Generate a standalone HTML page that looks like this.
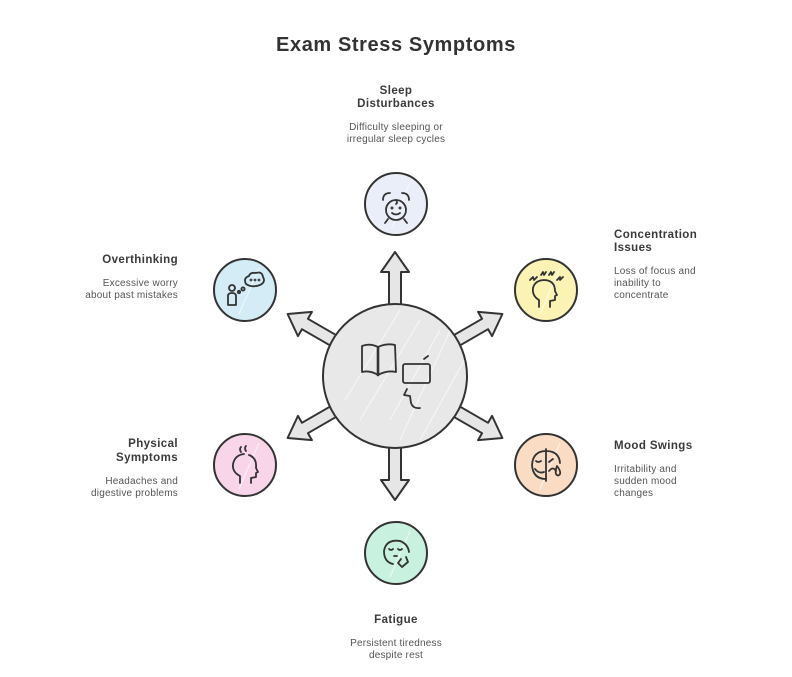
<!DOCTYPE html>
<html>
<head>
<meta charset="utf-8">
<style>
  html,body{margin:0;padding:0;background:#fff;}
  body{width:792px;height:677px;overflow:hidden;}
  svg{display:block;}
  .t{font-family:"Liberation Sans",sans-serif;fill:#333;}
  .h{font-family:"Liberation Sans",sans-serif;font-weight:bold;font-size:11.5px;fill:#3a3a3a;letter-spacing:0.4px;}
  .d{font-family:"Liberation Sans",sans-serif;font-size:10px;fill:#555;letter-spacing:0.2px;}
  .ic{fill:none;stroke:#333;stroke-width:1.8;stroke-linecap:round;stroke-linejoin:round;}
</style>
</head>
<body>
<svg width="792" height="677" viewBox="0 0 792 677" xmlns="http://www.w3.org/2000/svg">
  <defs>
    <clipPath id="cc"><circle cx="395" cy="376" r="71"/></clipPath>
  </defs>

  <!-- Title -->
  <text class="t" x="396" y="51" text-anchor="middle" font-size="20" font-weight="bold" letter-spacing="0.6">Exam Stress Symptoms</text>

  <!-- Arrows -->
  <g fill="#e6e6e6" stroke="#333" stroke-width="2" stroke-linejoin="round">
    <polygon points="389,330 389,272 381,272 395,252 409,272 401,272 401,330" transform="rotate(0 395 376)"/>
    <polygon points="389,330 389,272 381,272 395,252 409,272 401,272 401,330" transform="rotate(60 395 376)"/>
    <polygon points="389,330 389,272 381,272 395,252 409,272 401,272 401,330" transform="rotate(120 395 376)"/>
    <polygon points="389,330 389,272 381,272 395,252 409,272 401,272 401,330" transform="rotate(180 395 376)"/>
    <polygon points="389,330 389,272 381,272 395,252 409,272 401,272 401,330" transform="rotate(240 395 376)"/>
    <polygon points="389,330 389,272 381,272 395,252 409,272 401,272 401,330" transform="rotate(300 395 376)"/>
  </g>

  <!-- Central circle -->
  <circle cx="395" cy="376" r="72" fill="#e8e8e8" stroke="#333" stroke-width="2"/>
  <g clip-path="url(#cc)" stroke="#f7f7f7" stroke-width="1.2" opacity="0.9">
    <line x1="420" y1="320" x2="360" y2="420"/>
    <line x1="440" y1="330" x2="390" y2="420"/>
    <line x1="455" y1="320" x2="400" y2="440"/>
    <line x1="400" y1="310" x2="345" y2="400"/>
    <line x1="470" y1="350" x2="420" y2="440"/>
  </g>
  <!-- book icon -->
  <g class="ic" stroke-width="2">
    <path d="M362 346 Q370 343 378 347 Q386 343 395 345 L396 372 Q387 370 378 375 Q370 370 362 372 Z"/>
    <line x1="378" y1="347" x2="378" y2="375" stroke-width="2.6"/>
    <rect x="403" y="364" width="27" height="19" rx="2"/>
    <line x1="424" y1="359" x2="428" y2="356"/>
    <path d="M407 389 L404 395 L410 396 L411 403 Q413 409 420 408"/>
  </g>

  <!-- Satellites -->
  <g stroke="#333" stroke-width="2">
    <circle cx="396" cy="204" r="31" fill="#eaeef8"/>
    <circle cx="546" cy="290" r="31" fill="#fbf3b4"/>
    <circle cx="546" cy="465" r="31" fill="#f9dcc3"/>
    <circle cx="396" cy="553" r="31" fill="#c9f1df"/>
    <circle cx="245" cy="465" r="31" fill="#f8d5e8"/>
    <circle cx="245" cy="290" r="31" fill="#d3ecf6"/>
  </g>
  <g stroke="#ffffff" stroke-width="1" opacity="0.7">
    <line x1="410" y1="182" x2="392" y2="228"/>
    <line x1="560" y1="268" x2="540" y2="314"/>
    <line x1="560" y1="443" x2="540" y2="489"/>
    <line x1="410" y1="531" x2="390" y2="577"/>
    <line x1="259" y1="443" x2="239" y2="489"/>
    <line x1="259" y1="268" x2="239" y2="314"/>
  </g>

  <!-- Alarm clock icon -->
  <g class="ic">
    <circle cx="396" cy="210" r="10"/>
    <path d="M383 200 Q383 193 390 193"/>
    <path d="M409 200 Q409 193 402 193"/>
    <path d="M388 219 L385 223"/>
    <path d="M404 219 L407 223"/>
    <path d="M392 213 Q396 216 400 213"/>
    <circle cx="392" cy="208" r="0.6"/>
    <circle cx="400" cy="208" r="0.6"/>
    <path d="M396 200 Q398 203 396 204"/>
  </g>

  <!-- Concentration icon -->
  <g class="ic">
    <path d="M539 307 L539 300 Q532 296 533 288 Q535 280 545 280 Q555 281 555 291 L557 295 L555 296 L555 300 L550 301 L550 307"/>
    <path d="M530 280 L533 277 L534 280 L537 277"/>
    <path d="M541 275 L543 272 L544 275 L546 272"/>
    <path d="M549 275 L551 272 L552 275 L554 272"/>
    <path d="M557 280 L560 277 L560 280 L563 277"/>
  </g>

  <!-- Mood swings icon -->
  <g class="ic">
    <path d="M546 451 Q533 451 532 465 Q533 479 546 479"/>
    <path d="M546 451 Q559 451 560 463"/>
    <line x1="546" y1="449" x2="546" y2="481"/>
    <path d="M536 461 Q538 463 541 461"/>
    <path d="M535 469 Q539 474 544 472"/>
    <path d="M549 462 L553 459"/>
    <path d="M549 471 Q553 466 556 471"/>
    <path d="M557 466 Q561 471 560 474 Q558 477 556 474 Q555 471 557 466 Z"/>
  </g>

  <!-- Fatigue icon -->
  <g class="ic">
    <path d="M400 541 Q386 539 384 551 Q384 562 393 564"/>
    <path d="M400 541 Q408 544 409 552"/>
    <path d="M389 549 Q391 551 393 549"/>
    <path d="M398 549 Q400 551 402 549"/>
    <line x1="394" y1="556" x2="397" y2="556"/>
    <path d="M401 559 L398 563 L402 567 L408 562 L406 557"/>
  </g>

  <!-- Physical icon -->
  <g class="ic">
    <path d="M240 483 L240 476 Q232 472 233 464 Q235 455 244 454"/>
    <path d="M249 455 Q257 458 256 468 L258 472 L256 473 L256 477 L251 478 L251 483"/>
    <path d="M241 452 Q239 449 241 447"/>
    <path d="M246 451 Q244 448 246 446"/>
  </g>

  <!-- Overthinking icon -->
  <g class="ic">
    <circle cx="232" cy="288" r="3"/>
    <path d="M228 305 L228 296 Q228 293 232 293 Q236 293 236 296 L236 305 Z"/>
    <circle cx="239" cy="292" r="1.2"/>
    <circle cx="243" cy="289" r="1.6"/>
    <path d="M246 284 Q243 278 249 276 Q250 272 256 273 Q262 271 263 277 Q266 282 260 285 Q252 288 246 284 Z"/>
    <circle cx="251" cy="280" r="0.5"/>
    <circle cx="255" cy="280" r="0.5"/>
    <circle cx="259" cy="280" r="0.5"/>
  </g>

  <!-- Top labels -->
  <text class="h" x="396" y="94" text-anchor="middle">Sleep</text>
  <text class="h" x="396" y="107" text-anchor="middle">Disturbances</text>
  <text class="d" x="396" y="130" text-anchor="middle">Difficulty sleeping or</text>
  <text class="d" x="396" y="142" text-anchor="middle">irregular sleep cycles</text>

  <!-- Concentration -->
  <text class="h" x="614" y="238">Concentration</text>
  <text class="h" x="614" y="251">Issues</text>
  <text class="d" x="614" y="274">Loss of focus and</text>
  <text class="d" x="614" y="286">inability to</text>
  <text class="d" x="614" y="298">concentrate</text>

  <!-- Mood Swings -->
  <text class="h" x="614" y="449">Mood Swings</text>
  <text class="d" x="614" y="472">Irritability and</text>
  <text class="d" x="614" y="484">sudden mood</text>
  <text class="d" x="614" y="496">changes</text>

  <!-- Fatigue -->
  <text class="h" x="396" y="623" text-anchor="middle">Fatigue</text>
  <text class="d" x="396" y="646" text-anchor="middle">Persistent tiredness</text>
  <text class="d" x="396" y="658" text-anchor="middle">despite rest</text>

  <!-- Overthinking -->
  <text class="h" x="178" y="263" text-anchor="end">Overthinking</text>
  <text class="d" x="178" y="286" text-anchor="end">Excessive worry</text>
  <text class="d" x="178" y="298" text-anchor="end">about past mistakes</text>

  <!-- Physical -->
  <text class="h" x="178" y="447" text-anchor="end">Physical</text>
  <text class="h" x="178" y="461" text-anchor="end">Symptoms</text>
  <text class="d" x="178" y="484" text-anchor="end">Headaches and</text>
  <text class="d" x="178" y="496" text-anchor="end">digestive problems</text>
</svg>
</body>
</html>
